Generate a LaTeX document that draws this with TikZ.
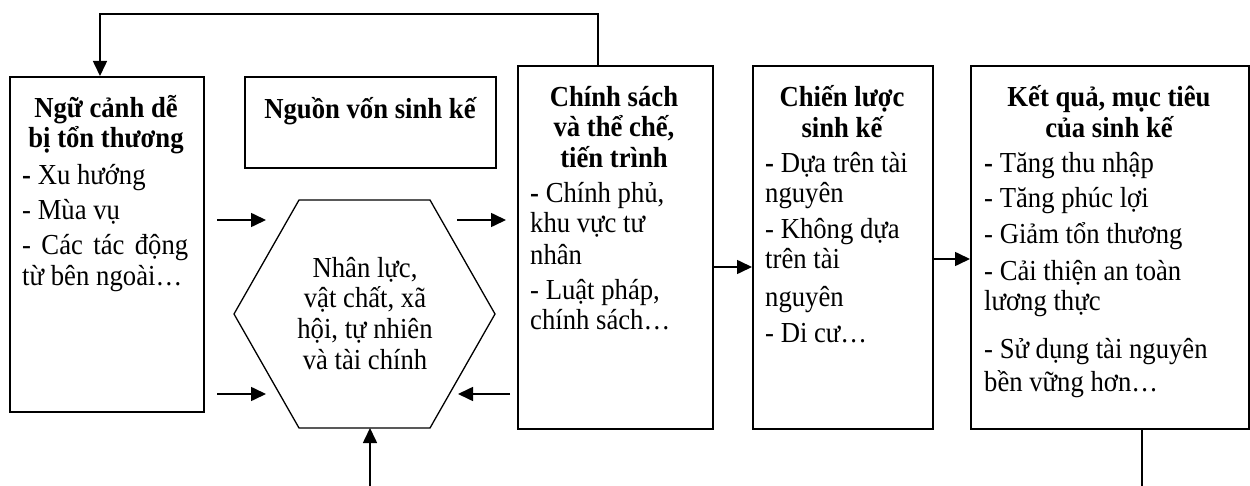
\documentclass[tikz,border=0pt]{standalone}
\usepackage{fontspec}
\setmainfont{Liberation Serif}[FakeStretch=0.92]
\usetikzlibrary{arrows.meta}
\tikzset{
  box/.style={draw, line width=1.6pt, anchor=north west, inner sep=0pt},
  txt/.style={inner sep=0pt, font=\fontsize{29}{31}\selectfont},
  hd/.style={txt, anchor=base, font=\fontsize{29}{31}\selectfont\bfseries},
  bd/.style={txt, anchor=base west},
  arr/.style={line width=1.6pt, -{Triangle[length=15pt,width=14pt]}},
  hexline/.style={line width=1.3pt, line join=miter}
}
\begin{document}
\begin{tikzpicture}[x=1pt,y=-1pt]
\useasboundingbox (0,0) rectangle (1250,486);
% boxes
\node[box, minimum width=194pt, minimum height=335pt] (ctx) at (9,76) {};
\node[box, minimum width=251pt, minimum height=91pt] (nguon) at (244,76) {};
\node[box, minimum width=195pt, minimum height=363pt] (chinh) at (517,65) {};
\node[box, minimum width=180pt, minimum height=363pt] (chien) at (752,65) {};
\node[box, minimum width=278pt, minimum height=363pt] (kq) at (970,65) {};
% hexagon
\coordinate (h1) at (299,200);
\coordinate (h2) at (430,200);
\coordinate (h3) at (495,314);
\coordinate (h4) at (430,428);
\coordinate (h5) at (299,428);
\coordinate (h6) at (234,314);
\draw[hexline] (h1) -- (h2) -- (h3) -- (h4) -- (h5) -- (h6) -- cycle;
% texts: context
\node[hd] (t1) at (106,118) {Ngữ cảnh dễ};
\node[hd] (t2) at (106,148) {bị tổn thương};
\node[bd] (t3) at (22,185) {{\bfseries -} Xu hướng};
\node[bd] (t4) at (22,220) {- Mùa vụ};
\node[bd] (t5) at (22,255) {\makebox[166pt][s]{- Các tác động}};
\node[bd] (t6) at (22,286) {\makebox[160pt][s]{từ bên ngoài…}};
% nguon
\node[hd] (t7) at (370,119) {Nguồn vốn sinh kế};
% hexagon text
\node[txt, anchor=base] (t8) at (365,278) {Nhân lực,};
\node[txt, anchor=base] (t9) at (365,308) {vật chất, xã};
\node[txt, anchor=base] (t10) at (365,338) {hội, tự nhiên};
\node[txt, anchor=base] (t11) at (365,369) {và tài chính};
% chinh sach
\node[hd] (t12) at (614,107) {Chính sách};
\node[hd] (t13) at (614,137) {và thể chế,};
\node[hd] (t14) at (614,168) {tiến trình};
\node[bd] (t15) at (530,203) {{\bfseries -} Chính phủ,};
\node[bd] (t16) at (530,233) {khu vực tư};
\node[bd] (t17) at (530,265) {nhân};
\node[bd] (t18) at (530,300) {- Luật pháp,};
\node[bd] (t19) at (530,329) {chính sách…};
% chien luoc
\node[hd] (t20) at (842,107) {Chiến lược};
\node[hd] (t21) at (842,138) {sinh kế};
\node[bd] (t22) at (765,173) {{\bfseries -} Dựa trên tài};
\node[bd] (t23) at (765,203) {nguyên};
\node[bd] (t24) at (765,239) {- Không dựa};
\node[bd] (t25) at (765,269) {trên tài};
\node[bd] (t26) at (765,306) {nguyên};
\node[bd] (t27) at (765,342) {- Di cư…};
% ket qua
\node[hd] (t28) at (1109,107) {Kết quả, mục tiêu};
\node[hd] (t29) at (1109,138) {của sinh kế};
\node[bd] (t30) at (984,173) {{\bfseries -} Tăng thu nhập};
\node[bd] (t31) at (984,208) {- Tăng phúc lợi};
\node[bd] (t32) at (984,244) {- Giảm tổn thương};
\node[bd] (t33) at (984,280) {- Cải thiện an toàn};
\node[bd] (t34) at (984,311) {lương thực};
\node[bd] (t35) at (984,358) {- Sử dụng tài nguyên};
\node[bd] (t36) at (984,391) {bền vững hơn…};
% arrow coordinates
\coordinate (a1s) at (217,220); \coordinate (a1e) at (266,220);
\coordinate (a2s) at (217,394); \coordinate (a2e) at (266,394);
\coordinate (a3s) at (457,220); \coordinate (a3e) at (506,220);
\coordinate (a4s) at (510,394); \coordinate (a4e) at (458,394);
\coordinate (a5s) at (370,486);
\coordinate (fb1) at (598,14);
\coordinate (fb2) at (100,14);
\coordinate (bot) at (1142,486);
% arrows
\draw[arr] (a1s) -- (a1e);
\draw[arr] (a2s) -- (a2e);
\draw[arr] (a3s) -- (a3e);
\draw[arr] (a4s) -- (a4e);
\draw[arr] (a5s) -- (a5s |- h5);
\draw[arr] (chinh.east |- 0,267) -- (chien.west |- 0,267);
\draw[arr] (chien.east |- 0,259) -- (kq.west |- 0,259);
\draw[arr] (chinh.north -| fb1) -- (fb1) -- (fb2) -- (fb2 |- ctx.north);
\draw[line width=1.6pt] (kq.south -| bot) -- (bot);
\end{tikzpicture}
\end{document}
